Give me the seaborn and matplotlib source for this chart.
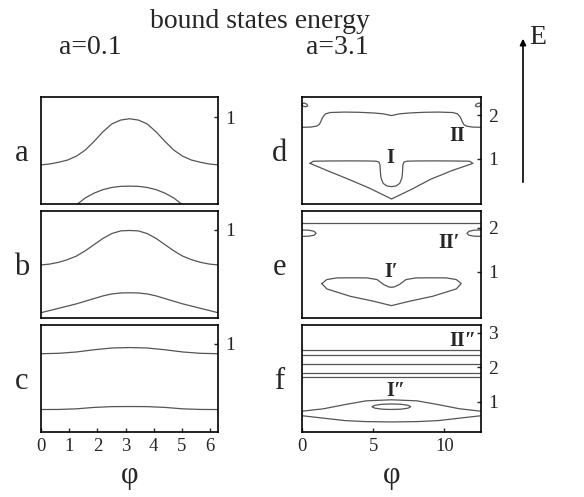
import numpy as np
import matplotlib
matplotlib.use("Agg")
import matplotlib.pyplot as plt
from matplotlib.patches import FancyArrowPatch
import seaborn as sns

# ---------------- data ----------------
# left column: a = 0.1, phi in [0, 2pi]
phi_ab = [0.0, 0.314, 0.628, 0.942, 1.257, 1.571, 1.885, 2.199, 2.513, 2.827,
          3.142, 3.456, 3.770, 4.084, 4.398, 4.712, 5.027, 5.341, 5.655, 5.969, 6.283]
a_upper = [0.45, 0.46, 0.48, 0.505, 0.55, 0.62, 0.72, 0.83, 0.92, 0.965,
           0.98, 0.965, 0.92, 0.83, 0.72, 0.62, 0.55, 0.505, 0.48, 0.46, 0.45]
phi_a_low = [0.942, 1.257, 1.571, 1.885, 2.199, 2.513, 2.827, 3.142,
             3.456, 3.770, 4.084, 4.398, 4.712, 5.027, 5.341]
a_lower = [-0.1, -0.01, 0.07, 0.125, 0.165, 0.19, 0.203, 0.205,
           0.203, 0.19, 0.165, 0.125, 0.07, -0.01, -0.1]
b_upper = [0.60, 0.61, 0.63, 0.66, 0.70, 0.76, 0.83, 0.90, 0.955, 0.985,
           0.99, 0.985, 0.955, 0.90, 0.83, 0.76, 0.70, 0.66, 0.63, 0.61, 0.60]
b_lower = [0.06, 0.085, 0.11, 0.135, 0.16, 0.19, 0.22, 0.25, 0.272, 0.283,
           0.285, 0.283, 0.272, 0.25, 0.22, 0.19, 0.16, 0.135, 0.11, 0.085, 0.06]
phi_c = [0.0, 0.628, 1.257, 1.885, 2.513, 3.142, 3.770, 4.398, 5.027, 5.655, 6.283]
c_upper = [0.885, 0.89, 0.905, 0.93, 0.95, 0.955, 0.95, 0.93, 0.905, 0.89, 0.885]
c_lower = [0.254, 0.255, 0.262, 0.278, 0.287, 0.288, 0.287, 0.278, 0.262, 0.255, 0.254]

# right column: a = 3.1, phi in [0, 4pi]
d_II_phi = [0.0, 0.6, 1.0, 1.2, 1.32, 1.45, 1.65, 2.0, 3.0, 4.0, 5.0, 5.7, 6.283,
            6.86, 7.57, 8.57, 9.57, 10.57, 10.92, 11.12, 11.25, 11.37, 11.57, 11.97, 12.566]
d_II_E = [1.72, 1.725, 1.745, 1.78, 1.85, 1.95, 2.03, 2.06, 2.07, 2.065, 2.05, 2.03, 1.99,
          2.03, 2.05, 2.065, 2.07, 2.06, 2.03, 1.95, 1.85, 1.78, 1.745, 1.725, 1.72]
d_I_phi = [0.56, 0.8, 2.0, 3.4, 4.6, 5.2, 5.40, 5.48, 5.50, 5.55, 5.70, 5.95, 6.283,
           6.61, 6.86, 7.01, 7.06, 7.08, 7.16, 7.36, 7.96, 9.16, 10.56, 11.76, 12.0,
           10.5, 9.0, 7.8, 6.283, 4.8, 3.3, 1.8, 0.56]
d_I_E = [0.89, 0.94, 0.945, 0.947, 0.945, 0.94, 0.92, 0.85, 0.70, 0.55, 0.43, 0.37, 0.355,
         0.37, 0.43, 0.55, 0.70, 0.85, 0.92, 0.94, 0.945, 0.947, 0.945, 0.94, 0.89,
         0.72, 0.52, 0.31, 0.07, 0.31, 0.52, 0.72, 0.89]
d_loopL_phi = [0.0, 0.15, 0.35, 0.4, 0.25, 0.05, 0.0]
d_loopL_E = [2.26, 2.28, 2.25, 2.21, 2.19, 2.21, 2.26]
d_loopR_phi = [12.566, 12.42, 12.22, 12.17, 12.32, 12.52, 12.566]
d_loopR_E = [2.26, 2.28, 2.25, 2.21, 2.19, 2.21, 2.26]

e_top_phi = [0.0, 12.566]
e_top_E = [2.10, 2.10]
e_loopL_phi = [0.0, 0.5, 0.85, 0.99, 0.85, 0.5, 0.0]
e_loopL_E = [1.95, 1.945, 1.92, 1.875, 1.83, 1.81, 1.805]
e_loopR_phi = [12.566, 12.07, 11.72, 11.58, 11.72, 12.07, 12.566]
e_loopR_E = [1.95, 1.945, 1.92, 1.875, 1.83, 1.81, 1.805]
e_I_phi = [1.39, 1.74, 2.45, 3.5, 4.56, 5.27, 5.74, 6.09, 6.283, 6.48, 6.83, 7.30,
           8.01, 9.07, 10.12, 10.83, 11.18, 10.83, 9.17, 7.52, 6.283, 5.05, 3.39, 1.74, 1.39]
e_I_E = [0.735, 0.826, 0.864, 0.866, 0.864, 0.826, 0.712, 0.66, 0.65, 0.66, 0.712, 0.826,
         0.864, 0.866, 0.864, 0.826, 0.735, 0.614, 0.447, 0.333, 0.235, 0.333, 0.447, 0.614, 0.735]

f_levels = [2.49, 2.35, 2.08, 1.84, 1.71]
f_lens_phi = [0.0, 1.5, 3.0, 4.5, 6.283, 8.07, 9.57, 11.07, 12.566]
f_lens_up = [0.73, 0.80, 0.92, 1.03, 1.06, 1.03, 0.92, 0.80, 0.73]
f_lens_low = [0.60, 0.53, 0.46, 0.43, 0.42, 0.43, 0.46, 0.53, 0.60]
f_ell_phi = [4.93, 5.10, 5.60, 6.283, 6.97, 7.46, 7.63, 7.46, 6.97, 6.283, 5.60, 5.10, 4.93]
f_ell_E = [0.86, 0.90, 0.93, 0.94, 0.93, 0.90, 0.86, 0.82, 0.79, 0.78, 0.79, 0.82, 0.86]

# ---------------- style ----------------
sns.set_style("white")
plt.rcParams["font.family"] = ["Liberation Serif", "DejaVu Serif"]
plt.rcParams["mathtext.fontset"] = "stix"

W, H = 584, 497
fig = plt.figure(figsize=(W / 100, H / 100), dpi=100)

def px_axes(x0, y0, x1, y1):
    return fig.add_axes([x0 / W, 1 - y1 / H, (x1 - x0) / W, (y1 - y0) / H])

LC = "#555555"
LW = 0.9

def curve(ax, x, y):
    sns.lineplot(x=x, y=y, ax=ax, sort=False, estimator=None, color=LC, lw=LW, legend=False)

rows = [(97, 204), (211, 318), (325, 432)]
left = [px_axes(41, r0, 218, r1) for r0, r1 in rows]
right = [px_axes(302, r0, 481, r1) for r0, r1 in rows]

# left column
ax = left[0]
curve(ax, phi_ab, a_upper)
curve(ax, phi_a_low, a_lower)
ax.set_ylim(0, 1.23)
ax = left[1]
curve(ax, phi_ab, b_upper)
curve(ax, phi_ab, b_lower)
ax.set_ylim(0, 1.21)
ax = left[2]
curve(ax, phi_c, c_upper)
curve(ax, phi_c, c_lower)
ax.set_ylim(0, 1.21)

# right column
ax = right[0]
curve(ax, d_II_phi, d_II_E)
curve(ax, d_I_phi, d_I_E)
curve(ax, d_loopL_phi, d_loopL_E)
curve(ax, d_loopR_phi, d_loopR_E)
ax.set_ylim(-0.045, 2.417)
ax = right[1]
curve(ax, e_top_phi, e_top_E)
curve(ax, e_loopL_phi, e_loopL_E)
curve(ax, e_loopR_phi, e_loopR_E)
curve(ax, e_I_phi, e_I_E)
ax.set_ylim(-0.045, 2.38)
ax = right[2]
for lv in f_levels:
    curve(ax, [0.0, 12.566], [lv, lv])
curve(ax, f_lens_phi, f_lens_up)
curve(ax, f_lens_phi, f_lens_low)
curve(ax, f_ell_phi, f_ell_E)
ax.set_ylim(0.13, 3.22)

for ax in left:
    ax.set_xlim(0, 2 * np.pi)
    ax.set_yticks([1])
for ax in right:
    ax.set_xlim(0, 4 * np.pi)
right[0].set_yticks([1, 2])
right[1].set_yticks([1, 2])
right[2].set_yticks([1, 2, 3])

for ax in left + right:
    for s in ax.spines.values():
        s.set_color("black")
        s.set_linewidth(1.2)
    ax.yaxis.tick_right()
    ax.tick_params(axis="y", direction="in", length=3, width=1, labelsize=14, pad=5,
                   right=True, left=False)
    ax.tick_params(axis="x", direction="in", length=3, width=1, labelsize=13.5, pad=4,
                   bottom=True, top=False)
    ax.set_ylabel("")
    ax.set_xlabel("")

for ax in (left[0], left[1], right[0], right[1]):
    ax.set_xticks([])
left[2].set_xticks([0, 1, 2, 3, 4, 5, 6])
right[2].set_xticks([0, 5, 10])
left[2].set_xlabel("φ", fontsize=22, labelpad=5)
right[2].set_xlabel("φ", fontsize=22, labelpad=5)

for ax, lab in zip(left, ["a", "b", "c"]):
    ax.text(-0.11, 0.40, lab, transform=ax.transAxes, ha="center", va="baseline", fontsize=22)
for ax, lab in zip(right, ["d", "e", "f"]):
    ax.text(-0.128, 0.40, lab, transform=ax.transAxes, ha="center", va="baseline", fontsize=22)

lab_kw = dict(ha="center", va="center", fontsize=14.5, fontweight="bold")
right[0].text(10.9, 1.51, "II", **lab_kw)
right[0].text(6.21, 1.02, "I", **lab_kw)
right[1].text(10.3, 1.66, "II′", **lab_kw)
right[1].text(6.26, 0.99, "I′", **lab_kw)
right[2].text(11.3, 2.76, "II″", **lab_kw)
right[2].text(6.56, 1.31, "I″", **lab_kw)

fig.text(260 / W, 1 - 21 / H, "bound states energy", ha="center", va="center", fontsize=20)
fig.text(90 / W, 1 - 47 / H, "a=0.1", ha="center", va="center", fontsize=20)
fig.text(337 / W, 1 - 47 / H, "a=3.1", ha="center", va="center", fontsize=20)
fig.text(529 / W, 1 - 38 / H, "E", ha="left", va="center", fontsize=20)
fig.add_artist(FancyArrowPatch((523 / W, 1 - 185 / H), (523 / W, 1 - 36 / H),
                               transform=fig.transFigure, arrowstyle="-|>",
                               mutation_scale=9, lw=1.2, color="black"))

fig.savefig("out.png", dpi=100)
